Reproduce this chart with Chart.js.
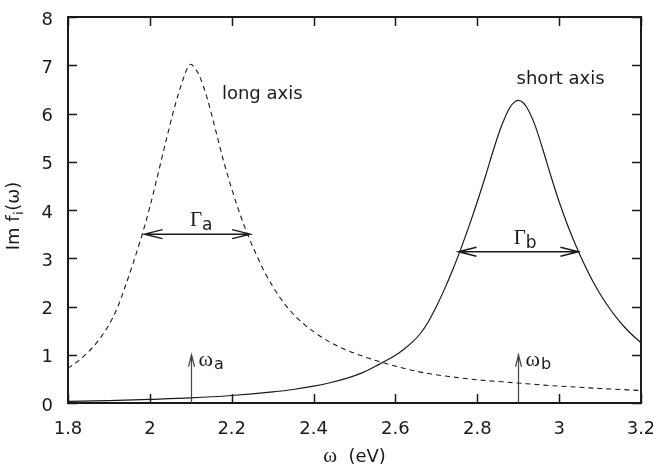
<!DOCTYPE html>
<html><head><meta charset="utf-8">
<script src="https://cdn.jsdelivr.net/npm/chart.js@4"></script>
<style>html,body{margin:0;padding:0;background:#fff}canvas{display:block}</style>
</head><body>
<canvas id="c" width="653" height="471"></canvas>
<script>
// ---- data ----
const longX = [1.80,1.82,1.84,1.86,1.88,1.90,1.92,1.94,1.96,1.98,2.00,2.02,2.04,2.06,2.08,2.09,2.10,2.11,2.12,2.14,2.16,2.18,2.20,2.22,2.24,2.26,2.28,2.30,2.32,2.34,2.36,2.38,2.40,2.44,2.48,2.52,2.56,2.62,2.68,2.74,2.80,2.86,2.92,2.98,3.04,3.10,3.15,3.20];
const longY = [0.72,0.84,0.98,1.15,1.36,1.62,1.96,2.42,2.92,3.46,4.06,4.75,5.45,6.12,6.68,6.91,7.02,6.94,6.80,6.32,5.68,5.02,4.44,3.92,3.47,3.08,2.72,2.42,2.16,1.94,1.76,1.61,1.48,1.26,1.10,0.97,0.86,0.72,0.61,0.54,0.48,0.44,0.40,0.36,0.33,0.30,0.28,0.26];
const shortX = [1.80,1.90,2.00,2.10,2.20,2.30,2.35,2.40,2.44,2.48,2.52,2.56,2.58,2.60,2.62,2.64,2.66,2.68,2.70,2.72,2.74,2.76,2.78,2.80,2.82,2.84,2.86,2.88,2.89,2.90,2.91,2.92,2.94,2.96,2.98,3.00,3.02,3.04,3.06,3.08,3.10,3.12,3.14,3.16,3.18,3.20];
const shortY = [0.035,0.05,0.075,0.105,0.155,0.23,0.28,0.35,0.42,0.51,0.63,0.80,0.89,0.99,1.11,1.25,1.43,1.68,2.00,2.36,2.76,3.20,3.67,4.17,4.70,5.26,5.76,6.13,6.23,6.27,6.24,6.14,5.78,5.26,4.70,4.17,3.70,3.28,2.90,2.56,2.26,2.00,1.77,1.57,1.40,1.25];
const xTickLabels = ['1.8','2','2.2','2.4','2.6','2.8','3','3.2'];
const yTickLabels = ['0','1','2','3','4','5','6','7','8'];
const seriesNames = ['long axis','short axis'];
// widths (Gamma) : from, to, level ; resonances (omega) : position, arrow height
const gammaFrom = [1.987, 2.754];
const gammaTo = [2.245, 3.047];
const gammaLevel = [3.5, 3.135];
const gammaSub = ['a','b'];
const gammaLabelX = [2.098, 2.889];
const omegaAt = [2.1, 2.9];
const omegaHeight = [1.0, 1.0];
const omegaSub = ['a','b'];
// label anchors in data units
const nameLabelX = [2.176, 2.896];
const nameLabelY = [6.30, 6.62];

const SANS = '"DejaVu Sans", sans-serif';
const SERIF = '"Liberation Serif", "DejaVu Serif", serif';
const INK = '#1a1a1a';

const decor = {
  id: 'decor',
  afterDatasetsDraw(chart) {
    const ctx = chart.ctx, a = chart.chartArea;
    const xs = chart.scales.x, ys = chart.scales.y;
    ctx.save();
    // inward ticks, all four sides
    ctx.strokeStyle = INK; ctx.lineWidth = 1.5;
    const TL = 9;
    ctx.beginPath();
    xs.ticks.forEach(t => {
      const px = Math.round(xs.getPixelForValue(t.value)) + 0.5;
      ctx.moveTo(px, a.bottom); ctx.lineTo(px, a.bottom - TL);
      ctx.moveTo(px, a.top); ctx.lineTo(px, a.top + TL);
    });
    ys.ticks.forEach(t => {
      const py = Math.round(ys.getPixelForValue(t.value)) + 0.5;
      ctx.moveTo(a.left, py); ctx.lineTo(a.left + TL, py);
      ctx.moveTo(a.right, py); ctx.lineTo(a.right - TL, py);
    });
    ctx.stroke();
    ctx.lineWidth = 2;
    ctx.strokeRect(a.left, a.top, a.right - a.left, a.bottom - a.top);

    ctx.fillStyle = INK;
    ctx.textBaseline = 'alphabetic';
    ctx.textAlign = 'left';
    // series names
    ctx.font = '18px ' + SANS;
    seriesNames.forEach((n, i) => {
      ctx.fillText(n, xs.getPixelForValue(nameLabelX[i]), ys.getPixelForValue(nameLabelY[i]));
    });

    // Gamma double arrows
    ctx.lineWidth = 1.5; ctx.strokeStyle = INK;
    gammaFrom.forEach((f, i) => {
      const x1 = xs.getPixelForValue(f), x2 = xs.getPixelForValue(gammaTo[i]);
      const y = ys.getPixelForValue(gammaLevel[i]);
      ctx.beginPath();
      ctx.moveTo(x1, y); ctx.lineTo(x2, y);
      ctx.moveTo(x1 + 18, y - 4.5); ctx.lineTo(x1, y); ctx.lineTo(x1 + 18, y + 4.5);
      ctx.moveTo(x2 - 18, y - 4.5); ctx.lineTo(x2, y); ctx.lineTo(x2 - 18, y + 4.5);
      ctx.stroke();
      const x0 = xs.getPixelForValue(gammaLabelX[i]);
      ctx.font = '21px ' + SERIF;
      const w1 = ctx.measureText('\u0393').width;
      ctx.fillText('\u0393', x0, y - 8);
      ctx.font = '17px ' + SANS;
      ctx.fillText(gammaSub[i], x0 + w1, y - 4);
    });

    // omega arrows
    ctx.strokeStyle = '#444'; ctx.lineWidth = 1.2;
    omegaAt.forEach((w, i) => {
      const x = Math.round(xs.getPixelForValue(w)) + 0.5;
      const y0 = ys.getPixelForValue(0), y1 = ys.getPixelForValue(omegaHeight[i]);
      ctx.beginPath();
      ctx.moveTo(x, y0); ctx.lineTo(x, y1);
      ctx.moveTo(x - 3, y1 + 12); ctx.lineTo(x, y1); ctx.lineTo(x + 3, y1 + 12);
      ctx.stroke();
      ctx.fillStyle = INK;
      ctx.font = '22px ' + SERIF;
      ctx.fillText('\u03c9', x + 7, y1 + 11);
      const ww = ctx.measureText('\u03c9').width;
      ctx.font = '16px ' + SANS;
      ctx.fillText(omegaSub[i], x + 7 + ww + 1, y1 + 14);
    });

    // x axis title
    ctx.fillStyle = INK;
    ctx.font = '21px ' + SERIF;
    const wo = ctx.measureText('\u03c9').width;
    ctx.font = '18px ' + SANS;
    const we = ctx.measureText('  (eV)').width;
    const tx = (a.left + a.right) / 2 - (wo + we) / 2;
    ctx.font = '21px ' + SERIF;
    ctx.fillText('\u03c9', tx, 462);
    ctx.font = '18px ' + SANS;
    ctx.fillText('  (eV)', tx + wo, 462);

    // y axis title (rotated)
    ctx.save();
    ctx.translate(19, 216);
    ctx.rotate(-Math.PI / 2);
    ctx.font = '18px ' + SANS;
    const p1 = 'Im f', p3 = '(\u03c9)';
    const w1 = ctx.measureText(p1).width;
    ctx.font = '13px ' + SANS;
    const w2 = ctx.measureText('i').width + 1;
    ctx.font = '18px ' + SANS;
    const w3 = ctx.measureText(p3).width;
    let sx = -(w1 + w2 + w3) / 2;
    ctx.fillText(p1, sx, 0);
    ctx.font = '13px ' + SANS;
    ctx.fillText('i', sx + w1 + 0.5, 4);
    ctx.font = '18px ' + SANS;
    ctx.fillText(p3, sx + w1 + w2, 0);
    ctx.restore();

    ctx.restore();
  }
};

new Chart(document.getElementById('c'), {
  type: 'line',
  data: {
    datasets: [
      { label: seriesNames[0], data: longX.map((x, i) => ({x, y: longY[i]})),
        borderColor: INK, borderWidth: 1.1, borderDash: [5, 4], pointRadius: 0,
        cubicInterpolationMode: 'monotone', fill: false },
      { label: seriesNames[1], data: shortX.map((x, i) => ({x, y: shortY[i]})),
        borderColor: INK, borderWidth: 1.2, pointRadius: 0,
        cubicInterpolationMode: 'monotone', fill: false }
    ]
  },
  options: {
    responsive: false, animation: false, devicePixelRatio: 1,
    layout: { padding: { left: 0, right: 12, top: 17, bottom: 0 } },
    plugins: { legend: { display: false }, tooltip: { enabled: false } },
    scales: {
      x: {
        type: 'linear', min: 1.8, max: 3.2,
        grid: { display: false, drawTicks: false, tickLength: 0 },
        border: { display: false },
        ticks: { stepSize: 0.2, padding: 16, color: INK, font: { family: SANS, size: 18 },
          autoSkip: false, maxRotation: 0,
          callback: (v, i) => xTickLabels[i] },
        afterFit: s => { s.height = 68; s.paddingLeft = 0; s.paddingRight = 0; }
      },
      y: {
        type: 'linear', min: 0, max: 8,
        grid: { display: false, drawTicks: false, tickLength: 0 },
        border: { display: false },
        ticks: { stepSize: 1, padding: 15, labelOffset: 3, color: INK, font: { family: SANS, size: 18 },
          callback: (v, i) => yTickLabels[i] },
        afterFit: s => { s.width = 68; s.paddingTop = 0; s.paddingBottom = 0; }
      }
    }
  },
  plugins: [decor]
});
</script>
</body></html>
